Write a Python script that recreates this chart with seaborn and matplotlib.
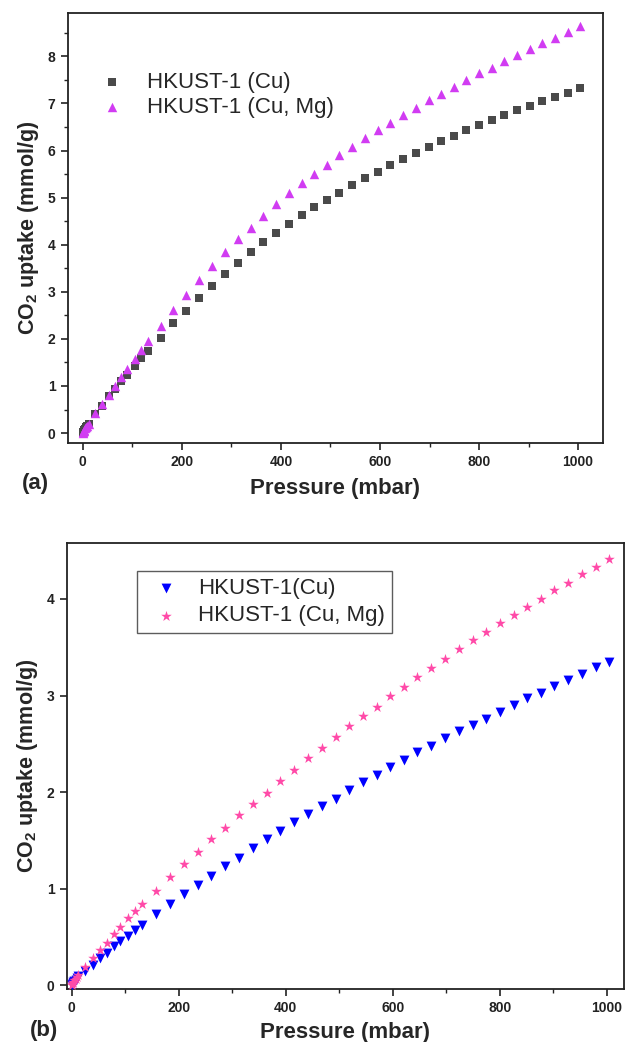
import numpy as np
import pandas as pd
import matplotlib
matplotlib.use("Agg")
import matplotlib.pyplot as plt
import seaborn as sns
from matplotlib.ticker import MultipleLocator

# ---------------- data ----------------
pressure = [0.5, 1, 2, 3, 5, 7, 9, 12,
            25, 39, 52, 65, 78, 90, 105, 118, 132,
            157, 183, 209, 235, 261, 287, 313, 339, 364, 390, 416,
            442, 467, 493, 518, 544, 570, 595, 621, 646, 672, 698, 723,
            749, 774, 800, 826, 851, 877, 902, 928, 954, 979, 1004]

a_cu = [0.01, 0.02, 0.04, 0.06, 0.09, 0.12, 0.15, 0.19,
        0.40, 0.58, 0.79, 0.94, 1.11, 1.23, 1.43, 1.60, 1.75,
        2.02, 2.33, 2.60, 2.87, 3.12, 3.37, 3.61, 3.84, 4.05, 4.25, 4.45,
        4.63, 4.81, 4.95, 5.10, 5.26, 5.41, 5.55, 5.69, 5.82, 5.95, 6.08, 6.20,
        6.31, 6.43, 6.54, 6.65, 6.75, 6.86, 6.95, 7.06, 7.14, 7.23, 7.32]

a_cumg = [0.01, 0.03, 0.05, 0.07, 0.10, 0.13, 0.16, 0.20,
          0.42, 0.62, 0.81, 1.00, 1.20, 1.35, 1.58, 1.76, 1.96,
          2.28, 2.61, 2.93, 3.25, 3.54, 3.84, 4.12, 4.35, 4.61, 4.86, 5.09,
          5.31, 5.51, 5.70, 5.90, 6.08, 6.27, 6.43, 6.59, 6.75, 6.91, 7.07, 7.20,
          7.34, 7.49, 7.64, 7.76, 7.90, 8.03, 8.15, 8.29, 8.40, 8.52, 8.64]

b_cu = [0.00, 0.01, 0.02, 0.03, 0.04, 0.05, 0.07, 0.09,
        0.15, 0.21, 0.28, 0.33, 0.40, 0.46, 0.51, 0.57, 0.62,
        0.74, 0.84, 0.94, 1.04, 1.13, 1.23, 1.32, 1.42, 1.51, 1.60, 1.69,
        1.77, 1.86, 1.93, 2.02, 2.10, 2.18, 2.26, 2.33, 2.41, 2.48, 2.56, 2.63,
        2.69, 2.76, 2.83, 2.90, 2.97, 3.03, 3.10, 3.16, 3.22, 3.30, 3.35]

b_cumg = [0.00, 0.01, 0.02, 0.03, 0.05, 0.06, 0.08, 0.10,
          0.19, 0.28, 0.36, 0.44, 0.53, 0.60, 0.69, 0.77, 0.84,
          0.97, 1.12, 1.25, 1.38, 1.51, 1.63, 1.76, 1.88, 1.99, 2.11, 2.23,
          2.35, 2.46, 2.57, 2.68, 2.79, 2.88, 2.99, 3.09, 3.19, 3.29, 3.38, 3.48,
          3.57, 3.66, 3.75, 3.83, 3.92, 4.00, 4.09, 4.17, 4.26, 4.33, 4.41]

labels_a = ["HKUST-1 (Cu)", "HKUST-1 (Cu, Mg)"]
labels_b = ["HKUST-1(Cu)", "HKUST-1 (Cu, Mg)"]

# ---------------- style ----------------
sns.set_style("ticks")
plt.rcParams['font.family'] = ['Liberation Sans', 'DejaVu Sans']
plt.rcParams['mathtext.fontset'] = 'custom'
plt.rcParams['mathtext.rm'] = 'Liberation Sans:bold'
plt.rcParams['mathtext.bf'] = 'Liberation Sans:bold'
plt.rcParams['mathtext.it'] = 'Liberation Sans:bold'

fig = plt.figure(figsize=(6.26, 10.42), dpi=100)
ax1 = fig.add_axes([0.1086, 0.5749, 0.8544, 0.4126])
ax2 = fig.add_axes([0.1070, 0.0509, 0.8898, 0.4280])

df_a = pd.DataFrame({"p": pressure, "cu": a_cu, "cumg": a_cumg})
df_b = pd.DataFrame({"p": pressure, "cu": b_cu, "cumg": b_cumg})

sns.scatterplot(data=df_a, x="p", y="cu", ax=ax1, marker="s", s=26,
                color="#4a4a4a", linewidth=0, label=labels_a[0], zorder=3)
sns.scatterplot(data=df_a, x="p", y="cumg", ax=ax1, marker="^", s=46,
                color="#d13cf2", linewidth=0, label=labels_a[1], zorder=4)

sns.scatterplot(data=df_b, x="p", y="cu", ax=ax2, marker="v", s=50,
                color="#0000ff", linewidth=0, label=labels_b[0], zorder=3)
sns.scatterplot(data=df_b, x="p", y="cumg", ax=ax2, marker="*", s=64,
                color="#ff4aa8", linewidth=0, label=labels_b[1], zorder=4)

ylabel = r"CO$_\mathbf{2}$ uptake (mmol/g)"

for ax in (ax1, ax2):
    for sp in ax.spines.values():
        sp.set_linewidth(1.3)
        sp.set_color("#222222")
    ax.tick_params(axis="both", which="major", direction="out", length=5,
                   width=1.2, labelsize=10, pad=4, colors="#222222")
    ax.tick_params(axis="both", which="minor", direction="out", length=3,
                   width=1.0, colors="#222222")
    ax.xaxis.set_major_locator(MultipleLocator(200))
    ax.xaxis.set_minor_locator(MultipleLocator(100))
    ax.set_ylabel(ylabel, fontsize=15.5, fontweight="bold", labelpad=5)

ax1.set_xlabel("Pressure (mbar)", fontsize=16, fontweight="bold", labelpad=6)
ax2.set_xlabel("Pressure (mbar)", fontsize=16, fontweight="bold", labelpad=5)

ax1.set_xlim(-30, 1050)
ax1.set_ylim(-0.21, 8.92)
ax1.yaxis.set_major_locator(MultipleLocator(1))
ax1.yaxis.set_minor_locator(MultipleLocator(0.5))

ax2.set_xlim(-9, 1032)
ax2.set_ylim(-0.04, 4.58)
ax2.yaxis.set_major_locator(MultipleLocator(1))

for ax in (ax1, ax2):
    for t in ax.get_xticklabels() + ax.get_yticklabels():
        t.set_fontweight("bold")

leg1 = ax1.legend(loc="upper left", bbox_to_anchor=(0.015, 0.895), frameon=False,
                  fontsize=16, handletextpad=0.6, borderaxespad=0.2,
                  labelspacing=0.2, markerscale=1.0)
leg2 = ax2.legend(loc="upper left", bbox_to_anchor=(0.126, 0.937), frameon=True,
                  fontsize=16, handletextpad=0.45, borderpad=0.3,
                  labelspacing=0.3, fancybox=False, borderaxespad=0.0)
leg2.get_frame().set_edgecolor("#333333")
leg2.get_frame().set_linewidth(1.0)

fig.text(22 / 626, 1 - 489 / 1042, "(a)", fontsize=16, fontweight="bold")
fig.text(30 / 626, 1 - 1036 / 1042, "(b)", fontsize=16, fontweight="bold")

fig.savefig("out.png", dpi=100, facecolor="white")
